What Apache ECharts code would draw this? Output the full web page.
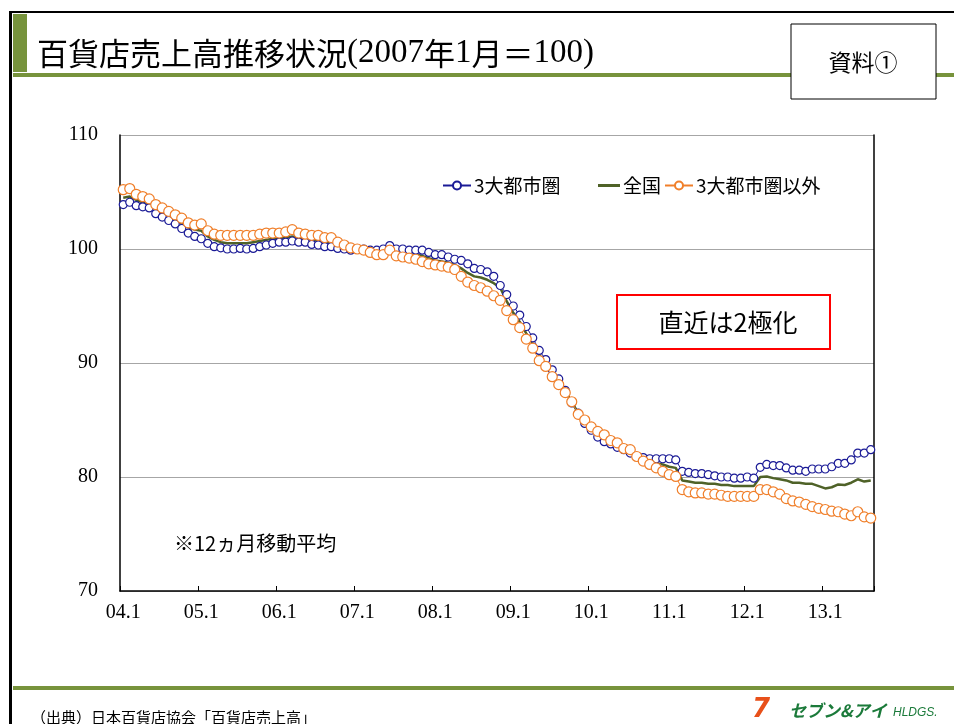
<!DOCTYPE html>
<html>
<head>
<meta charset="utf-8">
<script src="https://cdn.jsdelivr.net/npm/echarts@6/dist/echarts.min.js"></script>
<style>
  html, body { margin: 0; padding: 0; background: #fff; }
  #chart { width: 954px; height: 724px; }
</style>
</head>
<body>
<div id="chart"></div>
<script>
// 百貨店売上高推移状況 — 12ヵ月移動平均, 2007年1月 = 100

const YEARS = ['04', '05', '06', '07', '08', '09', '10', '11', '12', '13'];
const LAST_MONTH = 8; // data ends 13.8

// 3大都市圏
const METRO = [
  103.9, 104.1, 103.8, 103.7, 103.6, 103.1, 102.8, 102.5, 102.2, 101.8, 101.4, 101.1,
  100.9, 100.5, 100.2, 100.1, 100.0, 100.0, 100.05, 100.0, 100.05, 100.2, 100.35, 100.5,
  100.6, 100.6, 100.7, 100.6, 100.6, 100.4, 100.35, 100.2, 100.2, 100.05, 100.0, 99.9,
  100.0, 100.0, 99.9, 99.9, 100.0, 100.3, 100.0, 100.0, 99.9, 99.9, 99.9, 99.7,
  99.5, 99.5, 99.3, 99.1, 99.0, 98.7, 98.3, 98.2, 98.0, 97.6, 96.8, 96.0,
  95.0, 94.2, 93.2, 92.2, 91.1, 90.3, 89.4, 88.6, 87.6, 86.5, 85.6, 84.7,
  84.1, 83.5, 83.1, 82.9, 82.6, 82.4, 82.1, 81.8, 81.7, 81.6, 81.6, 81.6,
  81.6, 81.5, 80.5, 80.4, 80.3, 80.3, 80.2, 80.1, 80.0, 80.0, 79.9, 79.9,
  80.0, 79.9, 80.85, 81.1, 81.0, 81.0, 80.8, 80.6, 80.6, 80.5, 80.7, 80.7,
  80.7, 80.9, 81.2, 81.2, 81.5, 82.1, 82.1, 82.4,
];

// 全国
const NATION = [
  104.5, 104.6, 104.3, 104.1, 103.9, 103.5, 103.2, 102.9, 102.6, 102.2, 101.9, 101.7,
  101.6, 101.1, 100.8, 100.6, 100.5, 100.5, 100.5, 100.5, 100.6, 100.7, 100.8, 100.9,
  100.9, 101.0, 101.1, 101.0, 100.9, 100.8, 100.7, 100.6, 100.5, 100.3, 100.2, 100.0,
  100.0, 100.0, 99.8, 99.7, 99.7, 100.0, 99.7, 99.6, 99.5, 99.5, 99.4, 99.2,
  99.0, 98.9, 98.8, 98.6, 98.3, 97.9, 97.6, 97.5, 97.3, 97.0, 96.6, 95.4,
  94.4, 93.6, 92.6, 91.7, 90.7, 90.0, 89.1, 88.3, 87.5, 86.6, 85.6, 84.9,
  84.3, 83.8, 83.4, 83.1, 82.8, 82.5, 82.2, 81.9, 81.6, 81.4, 81.2, 81.1,
  80.9, 80.8, 79.7, 79.6, 79.5, 79.5, 79.4, 79.4, 79.3, 79.3, 79.2, 79.2,
  79.2, 79.2, 80.0, 80.05, 79.9, 79.8, 79.7, 79.5, 79.5, 79.4, 79.4, 79.2,
  79.0, 79.1, 79.35, 79.3, 79.5, 79.8, 79.6, 79.7,
];

// 3大都市圏以外
const OTHER = [
  105.2, 105.3, 104.8, 104.6, 104.4, 103.9, 103.6, 103.3, 103.0, 102.7, 102.3, 102.1,
  102.2, 101.6, 101.3, 101.2, 101.2, 101.2, 101.2, 101.2, 101.2, 101.3, 101.4, 101.4,
  101.4, 101.5, 101.7, 101.4, 101.3, 101.2, 101.2, 101.0, 101.0, 100.6, 100.35, 100.1,
  100.0, 99.9, 99.7, 99.5, 99.5, 99.9, 99.4, 99.3, 99.2, 99.1, 98.9, 98.7,
  98.6, 98.5, 98.4, 98.2, 97.6, 97.1, 96.8, 96.6, 96.3, 95.9, 95.5, 94.6,
  93.8, 93.1, 92.1, 91.3, 90.2, 89.7, 88.8, 88.1, 87.4, 86.6, 85.5, 85.0,
  84.4, 84.0, 83.7, 83.2, 83.0, 82.5, 82.4, 81.8, 81.4, 81.1, 80.8, 80.5,
  80.2, 80.05, 78.9, 78.7, 78.6, 78.6, 78.5, 78.5, 78.4, 78.3, 78.3, 78.3,
  78.3, 78.3, 78.9, 78.9, 78.7, 78.5, 78.1, 77.9, 77.8, 77.6, 77.4, 77.25,
  77.15, 77.0, 76.95, 76.75, 76.6, 76.95, 76.5, 76.4,
];

const Y_MIN = 70, Y_MAX = 110, Y_STEP = 10;

const COLORS = {
  metro: '#1a1a96',
  nation: '#4f6228',
  other: '#f07f2a',
  band: '#77933c',
  grid: '#a6a6a6',
  red: '#ff0000',
};

const JP = '"Noto Sans CJK JP", "Noto Sans", sans-serif';
const SERIF = '"Liberation Serif", "DejaVu Serif", serif';

function buildCategories() {
  const out = [];
  YEARS.forEach((y, yi) => {
    const last = yi === YEARS.length - 1 ? LAST_MONTH : 12;
    for (let m = 1; m <= last; m++) out.push(y + '.' + m);
  });
  return out;
}

function legendAt(left, name, w, extra) {
  return {
    left, top: 171, itemWidth: w, itemHeight: 10, itemGap: 0,
    data: [name],
    textStyle: { fontFamily: JP, fontSize: 19, color: '#000', padding: [0, 0, 0, -2] },
    ...(extra || {}),
  };
}

function lineSeries(name, data, color, size) {
  return {
    name, type: 'line', data, color,
    symbol: 'circle', symbolSize: size, showAllSymbol: true,
    lineStyle: { color, width: 1 },
    itemStyle: { color: '#fff', borderColor: color, borderWidth: 1.2 },
    emphasis: { disabled: true },
  };
}

// ---- Slide decoration ----
function slideGraphics() {
  return [
    { type: 'rect', shape: { x: 9, y: 11, width: 3, height: 713 }, style: { fill: '#000' } },
    { type: 'rect', shape: { x: 9, y: 11, width: 945, height: 2 }, style: { fill: '#000' } },
    { type: 'rect', shape: { x: 13, y: 14, width: 14, height: 58 }, style: { fill: COLORS.band } },
    { type: 'rect', shape: { x: 13, y: 73, width: 941, height: 4 }, style: { fill: COLORS.band } },
    { type: 'rect', shape: { x: 13, y: 686, width: 941, height: 4 }, style: { fill: COLORS.band } },
    {
      type: 'text', x: 37, y: 53,
      style: {
        text: '{a|百貨店売上高推移状況}{b|(2007}{a|年}{b|1}{a|月＝}{b|100)}',
        verticalAlign: 'middle',
        rich: {
          a: { fontFamily: JP, fontSize: 31, fill: '#000' },
          b: { fontFamily: SERIF, fontSize: 33, fill: '#000' },
        },
      },
    },
    {
      type: 'rect', z: 10, shape: { x: 791, y: 24, width: 145, height: 75 },
      style: { fill: '#fff', stroke: '#000', lineWidth: 1 },
    },
    {
      type: 'text', z: 11, x: 863, y: 62,
      style: { text: '資料①', fontFamily: JP, fontSize: 23, fill: '#000', align: 'center', verticalAlign: 'middle' },
    },
    // boxed comment
    {
      type: 'rect', z: 10, shape: { x: 617, y: 295, width: 213, height: 54 },
      style: { fill: '#fff', stroke: COLORS.red, lineWidth: 2 },
    },
    {
      type: 'text', z: 11, x: 728, y: 322,
      style: { text: '直近は2極化', fontFamily: JP, fontSize: 25, fill: '#000', align: 'center', verticalAlign: 'middle' },
    },
    {
      type: 'text', z: 11, x: 174, y: 543,
      style: { text: '※12ヵ月移動平均', fontFamily: JP, fontSize: 20, fill: '#000', verticalAlign: 'middle' },
    },
    {
      type: 'text', x: 31, y: 717,
      style: { text: '（出典）日本百貨店協会「百貨店売上高」', fontFamily: JP, fontSize: 15, fill: '#000', verticalAlign: 'middle' },
    },
    // logo
    {
      type: 'text', x: 752, y: 710,
      style: { text: '7', fontFamily: '"DejaVu Sans"', fontWeight: 'bold', fontStyle: 'italic', fontSize: 26, fill: '#e8501a', verticalAlign: 'middle' },
    },
    {
      type: 'text', x: 789, y: 711,
      style: { text: 'セブン&アイ', fontFamily: JP, fontWeight: 'bold', fontStyle: 'italic', fontSize: 17, fill: '#1b7a3a', verticalAlign: 'middle' },
    },
    {
      type: 'text', x: 893, y: 713,
      style: { text: 'HLDGS.', fontFamily: '"Liberation Sans"', fontStyle: 'italic', fontSize: 12, fill: '#1b7a3a', verticalAlign: 'middle' },
    },
  ];
}

// ---- Chart ----
function renderChart() {
  const chart = echarts.init(document.getElementById('chart'), null, { renderer: 'canvas' });
  const cats = buildCategories();

  const yBase = {
    type: 'value', min: Y_MIN, max: Y_MAX, interval: Y_STEP,
  };

  chart.setOption({
    animation: false,
    backgroundColor: '#fff',
    grid: { left: 120, top: 135, width: 754, height: 456 },
    legend: [
      legendAt(437, '3大都市圏', 28),
      legendAt(593, '全国', 22, { icon: 'rect', itemHeight: 3 }),
      legendAt(659, '3大都市圏以外', 28),
    ],
    xAxis: {
      type: 'category', data: cats, boundaryGap: true,
      axisLine: { lineStyle: { color: '#000', width: 1.5 } },
      axisTick: { show: true, interval: 11, inside: true, length: 5, lineStyle: { color: '#000' } },
      axisLabel: { interval: 11, margin: 12, fontFamily: SERIF, fontSize: 20, color: '#000' },
      splitLine: { show: false },
    },
    yAxis: [
      {
        ...yBase,
        axisLine: { show: true, lineStyle: { color: '#000', width: 1.5 } },
        axisTick: { show: false },
        axisLabel: { margin: 22, fontFamily: SERIF, fontSize: 20, color: '#000' },
        splitLine: { show: true, lineStyle: { color: COLORS.grid, width: 1 } },
      },
      {
        ...yBase, position: 'right',
        axisLine: { show: true, lineStyle: { color: '#000', width: 1.5 } },
        axisTick: { show: false }, axisLabel: { show: false }, splitLine: { show: false },
      },
    ],
    series: [
      lineSeries('3大都市圏', METRO, COLORS.metro, 8),
      {
        name: '全国', type: 'line', data: NATION, color: COLORS.nation,
        symbol: 'none', lineStyle: { color: COLORS.nation, width: 2.5 },
        emphasis: { disabled: true },
      },
      lineSeries('3大都市圏以外', OTHER, COLORS.other, 10),
    ],
    graphic: slideGraphics(),
  });
}

renderChart();
</script>
</body>
</html>
